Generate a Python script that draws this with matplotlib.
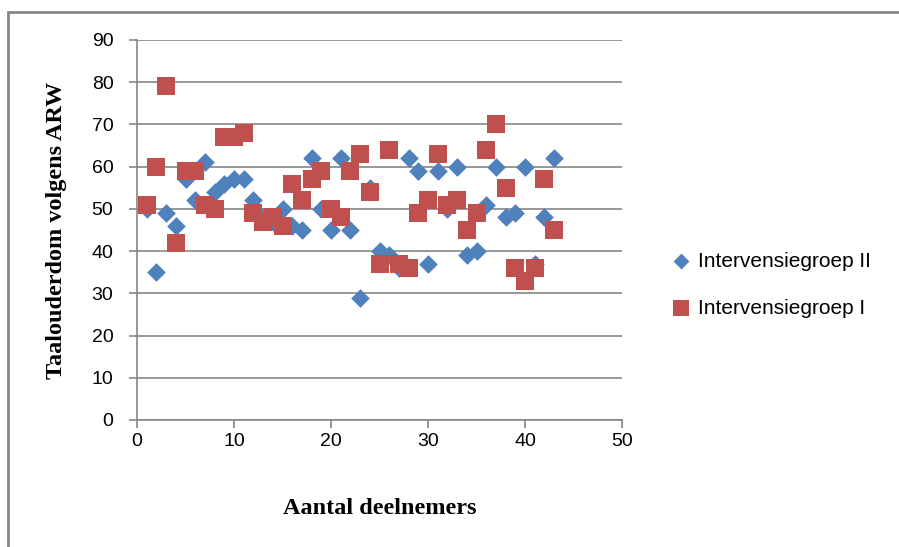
import matplotlib
matplotlib.use("Agg")
import matplotlib.pyplot as plt
from matplotlib.patches import Rectangle

# deelnemers 1..43
deelnemers = list(range(1, 44))

groep_2 = [50, 35, 49, 46, 57, 52, 61, 54, 56, 57,
           57, 52, 48, 47, 50, 46, 45, 62, 50, 45,
           62, 45, 29, 55, 40, 39, 36, 62, 59, 37,
           59, 50, 60, 39, 40, 51, 60, 48, 49, 60,
           37, 48, 62]

groep_1 = [51, 60, 79, 42, 59, 59, 51, 50, 67, 67,
           68, 49, 47, 48, 46, 56, 52, 57, 59, 50,
           48, 59, 63, 54, 37, 64, 37, 36, 49, 52,
           63, 51, 52, 45, 49, 64, 70, 55, 36, 33,
           36, 57, 45]

label_2 = "Intervensiegroep II"
label_1 = "Intervensiegroep I"
x_ticks = [0, 10, 20, 30, 40, 50]
y_ticks = [0, 10, 20, 30, 40, 50, 60, 70, 80, 90]

grey = "#868686"

fig = plt.figure(figsize=(8.99, 5.47), dpi=100)
ax = fig.add_axes([137 / 899, 1 - 420 / 547, 485 / 899, 380 / 547])

ax.scatter(deelnemers, groep_2, marker="D", s=9.5 ** 2, color="#4F81BD",
           linewidths=0, label=label_2, zorder=3)
ax.scatter(deelnemers, groep_1, marker="s", s=13.5 ** 2, color="#C0504D",
           linewidths=0, label=label_1, zorder=4)

ax.set_xlim(0, 50)
ax.set_ylim(0, 90)
ax.set_xticks(x_ticks)
ax.set_yticks(y_ticks)
ax.yaxis.grid(True, color=grey, linewidth=1.2)
ax.set_axisbelow(True)

for side in ["top", "right"]:
    ax.spines[side].set_visible(False)
for side in ["left", "bottom"]:
    ax.spines[side].set_color(grey)
    ax.spines[side].set_linewidth(1.2)

ax.tick_params(axis="both", colors=grey, length=6, width=1.2, direction="out")
ax.tick_params(axis="x", pad=3)
ax.tick_params(axis="y", pad=11)
for lbl in ax.get_xticklabels() + ax.get_yticklabels():
    lbl.set_fontfamily("Liberation Sans")
    lbl.set_fontsize(14)
    lbl.set_color("black")

ax.set_xlabel("Aantal deelnemers", family="Liberation Serif", fontweight="bold",
              fontsize=17.5, labelpad=35)
ax.set_ylabel("Taalouderdom volgens ARW", family="Liberation Serif",
              fontweight="bold", fontsize=17.5, labelpad=18)

fig.legend(loc="upper left", bbox_to_anchor=(650 / 899, 1 - 233 / 547),
           frameon=False, prop={"family": "Liberation Sans", "size": 15},
           handletextpad=0.2, labelspacing=1.35, handlelength=1.2,
           markerscale=0.85)

# chart border
fig.patches.append(Rectangle((8 / 899, -0.05), 1.1, 1 - 12 / 547 + 0.05,
                             transform=fig.transFigure, fill=False,
                             edgecolor=grey, linewidth=2))

fig.savefig("out.png", dpi=100)
